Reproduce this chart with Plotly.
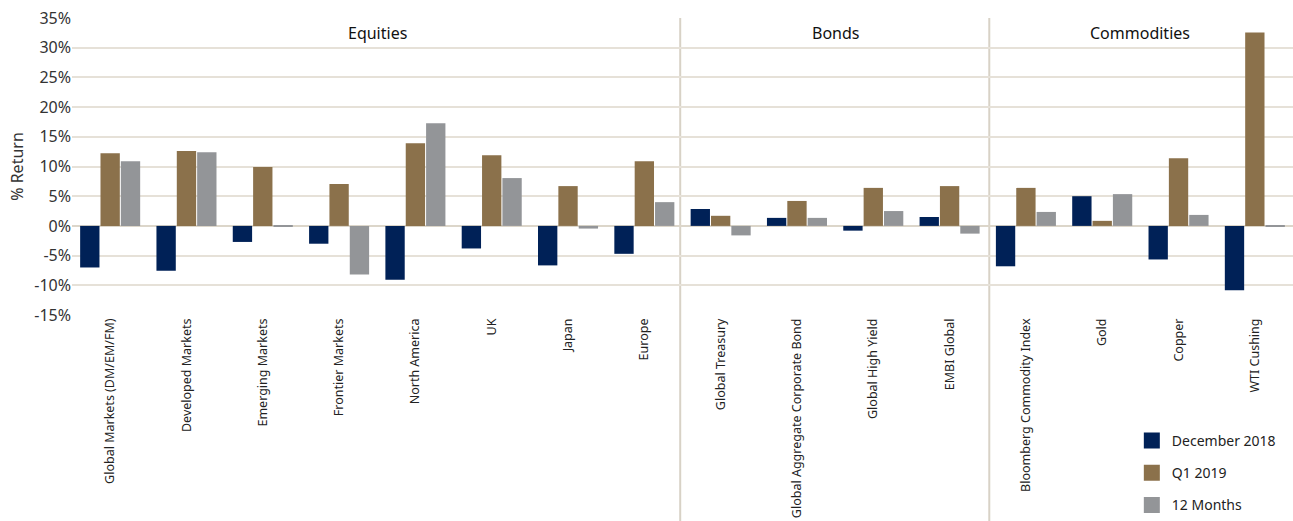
import plotly.graph_objects as go

categories = ["Global Markets (DM/EM/FM)", "Developed Markets", "Emerging Markets",
              "Frontier Markets", "North America", "UK", "Japan", "Europe",
              "Global Treasury", "Global Aggregate Corporate Bond", "Global High Yield",
              "EMBI Global", "Bloomberg Commodity Index", "Gold", "Copper", "WTI Cushing"]
dec_2018 = [-7.0, -7.55, -2.7, -3.0, -9.05, -3.8, -6.65, -4.7,
            2.85, 1.35, -0.8, 1.5, -6.8, 5.0, -5.65, -10.85]
q1_2019 = [12.25, 12.6, 9.9, 7.05, 13.9, 11.9, 6.7, 10.9,
           1.7, 4.2, 6.4, 6.7, 6.4, 0.85, 11.4, 32.55]
twelve_months = [10.9, 12.4, -0.1, -8.2, 17.3, 8.05, -0.45, 4.0,
                 -1.6, 1.35, 2.5, -1.3, 2.35, 5.35, 1.85, -0.1]
series_names = ["December 2018", "Q1 2019", "12 Months"]
groups = [("Equities", 0, 7), ("Bonds", 8, 11), ("Commodities", 12, 15)]
separator_x = [7.47, 11.52]
y_ticks = [-15, -10, -5, 0, 5, 10, 15, 20, 25, 30, 35]
y_ticktext = ["-15%", "-10%", "-5%", "0%", "5%", "10%", "15%", "20%", "25%", "30%", "35%"]

colors = ["#002157", "#8b714b", "#939598"]
FONT = "Noto Sans"

fig = go.Figure()
for i, (name, vals) in enumerate(zip(series_names, [dec_2018, q1_2019, twelve_months])):
    fig.add_trace(go.Bar(x=categories, y=vals, name=name, marker_color=colors[i],
                         marker_line_width=0, legendgroup=name, showlegend=False))
# legend proxies with larger square swatches
for i, name in enumerate(series_names):
    fig.add_trace(go.Scatter(x=[None], y=[None], mode="markers", name=name, legendgroup=name,
                             marker=dict(symbol="square", size=20, color=colors[i])))

shapes = []
annotations = []
for label, a, b in groups:
    annotations.append(dict(x=(a + b) / 2, xref="x", y=0.95, yref="paper", text=label,
                            showarrow=False, font=dict(family=FONT, size=16, color="#111111"),
                            xanchor="center", yanchor="middle"))
for sx in separator_x:
    shapes.append(dict(type="line", xref="x", yref="paper", x0=sx, x1=sx,
                       y0=-0.7, y1=1.0, line=dict(color="#d8d2c6", width=2), layer="below"))

fig.update_layout(
    width=1293, height=521,
    margin=dict(l=72, r=0, t=18, b=205),
    paper_bgcolor="white", plot_bgcolor="white",
    barmode="group", bargap=0.2, bargroupgap=0.05,
    font=dict(family=FONT, color="#222222"),
    shapes=shapes, annotations=annotations,
    legend=dict(x=0.868, y=-0.37, xanchor="left", yanchor="top",
                font=dict(family=FONT, size=14, color="#222222"),
                itemsizing="trace", itemwidth=30,
                tracegroupgap=11, bgcolor="rgba(0,0,0,0)"),
    xaxis=dict(range=[-0.5, 15.5], tickangle=-90, tickfont=dict(family=FONT, size=12.5, color="#222222"),
               showgrid=False, showline=False, ticks="", automargin=False),
    yaxis=dict(range=[-15, 35], tickvals=y_ticks, ticktext=y_ticktext,
               tickfont=dict(family=FONT, size=16, color="#333333"),
               showgrid=True, gridcolor="#e6e1d8", gridwidth=1.5,
               zeroline=True, zerolinecolor="#dcd6ca", zerolinewidth=2,
               title=dict(text="% Return", font=dict(family=FONT, size=16, color="#333333"), standoff=6),
               ticks="", showline=False, automargin=False),
)

fig.write_html("out.html")
